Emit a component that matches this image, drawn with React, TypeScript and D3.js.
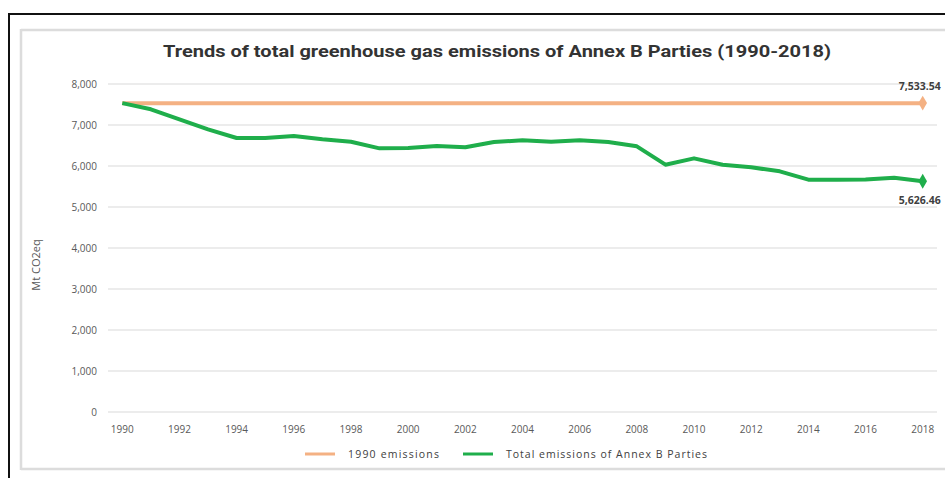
import React from "react";
import * as d3 from "d3";

const years: number[] = d3.range(1990, 2019);
const baseline1990: number[] = years.map(() => 7533.54);
const totalEmissions: number[] = [
  7533.54, 7383, 7139, 6895, 6683, 6683, 6732, 6651, 6593, 6431,
  6440, 6488, 6456, 6585, 6626, 6593, 6626, 6585, 6480, 6032,
  6187, 6032, 5968, 5870, 5666, 5666, 5670, 5715, 5626.46,
];
const yTicks: number[] = [0, 1000, 2000, 3000, 4000, 5000, 6000, 7000, 8000];
const xTickYears: number[] = years.filter((y) => (y - 1990) % 2 === 0);

const W = 945;
const H = 478;
const plot = { left: 108, right: 937, top: 84, bottom: 412 };
const ORANGE = "#f4b183";
const GREEN = "#1fae4b";
const FONT = "'Open Sans', 'Noto Sans', sans-serif";

export default function App() {
  const x = d3
    .scaleBand<number>()
    .domain(years)
    .range([plot.left, plot.right]);
  const cx = (yr: number) => (x(yr) as number) + x.bandwidth() / 2;
  const y = d3.scaleLinear().domain([0, 8000]).range([plot.bottom, plot.top]);
  const line = d3
    .line<number>()
    .x((_, i) => cx(years[i]))
    .y((d) => y(d));
  const fmt = d3.format(",.2f");
  const fmtTick = d3.format(",");
  const lastYear = years[years.length - 1];
  const lastBase = baseline1990[baseline1990.length - 1];
  const lastTotal = totalEmissions[totalEmissions.length - 1];
  const diamond = d3.symbol().type(d3.symbolDiamond).size(64)() as string;

  return (
    <svg
      width={W}
      height={H}
      style={{ position: "absolute", left: 0, top: 0, display: "block" }}
      fontFamily={FONT}
    >
      <rect width={W} height={H} fill="#fff" />
      {/* outer frame: top and left edges */}
      <line x1={9} x2={W} y1={14} y2={14} stroke="#111" strokeWidth={2} />
      <line x1={9} x2={9} y1={13} y2={H} stroke="#111" strokeWidth={2} />
      {/* chart area frame: left, top and bottom edges */}
      <line x1={21} x2={W} y1={30} y2={30} stroke="#dcdcdc" strokeWidth={2.5} />
      <line x1={21} x2={21} y1={29} y2={470} stroke="#dcdcdc" strokeWidth={2.5} />
      <line x1={21} x2={W} y1={469} y2={469} stroke="#dcdcdc" strokeWidth={2.5} />

      <text
        x={497}
        y={57}
        textAnchor="middle"
        fontSize={17}
        fontWeight="bold"
        fill="#333"
        fontFamily="Roboto, 'Liberation Sans', sans-serif"
        textLength={668}
        lengthAdjust="spacingAndGlyphs"
      >
        Trends of total greenhouse gas emissions of Annex B Parties (1990-2018)
      </text>

      {/* gridlines and y ticks */}
      {yTicks.map((t) => (
        <g key={t}>
          <line x1={plot.left} x2={plot.right} y1={y(t)} y2={y(t)} stroke="#d9d9d9" strokeWidth={1} />
          <text x={97} y={y(t)} dy="0.35em" textAnchor="end" fontSize={10} fill="#595959">
            {fmtTick(t)}
          </text>
        </g>
      ))}

      {/* x ticks */}
      {xTickYears.map((yr) => (
        <text key={yr} x={cx(yr)} y={433} textAnchor="middle" fontSize={10} fill="#595959">
          {yr}
        </text>
      ))}

      <text transform={`translate(40, 265) rotate(-90)`} textAnchor="middle" fontSize={11} fill="#595959">
        Mt CO2eq
      </text>

      {/* series */}
      <path d={line(baseline1990) as string} fill="none" stroke={ORANGE} strokeWidth={4} strokeLinejoin="round" />
      <path d={line(totalEmissions) as string} fill="none" stroke={GREEN} strokeWidth={4} strokeLinejoin="round" />

      <path d={diamond} transform={`translate(${cx(lastYear)}, ${y(lastBase)})`} fill={ORANGE} />
      <path d={diamond} transform={`translate(${cx(lastYear)}, ${y(lastTotal)})`} fill={GREEN} />

      <text x={cx(lastYear) - 3} y={y(lastBase) - 13} textAnchor="middle" fontSize={10.5} fontWeight="bold" fill="#404040">
        {fmt(lastBase)}
      </text>
      <text x={cx(lastYear) - 3} y={y(lastTotal) + 23} textAnchor="middle" fontSize={10.5} fontWeight="bold" fill="#404040">
        {fmt(lastTotal)}
      </text>

      {/* legend */}
      <line x1={305} x2={335} y1={454} y2={454} stroke={ORANGE} strokeWidth={3} />
      <text x={348} y={454} dy="0.35em" fontSize={10.5} fill="#404040" textLength={91} lengthAdjust="spacing">
        1990 emissions
      </text>
      <line x1={463} x2={493} y1={454} y2={454} stroke={GREEN} strokeWidth={3} />
      <text x={506} y={454} dy="0.35em" fontSize={10.5} fill="#404040" textLength={201} lengthAdjust="spacing">
        Total emissions of Annex B Parties
      </text>
    </svg>
  );
}
